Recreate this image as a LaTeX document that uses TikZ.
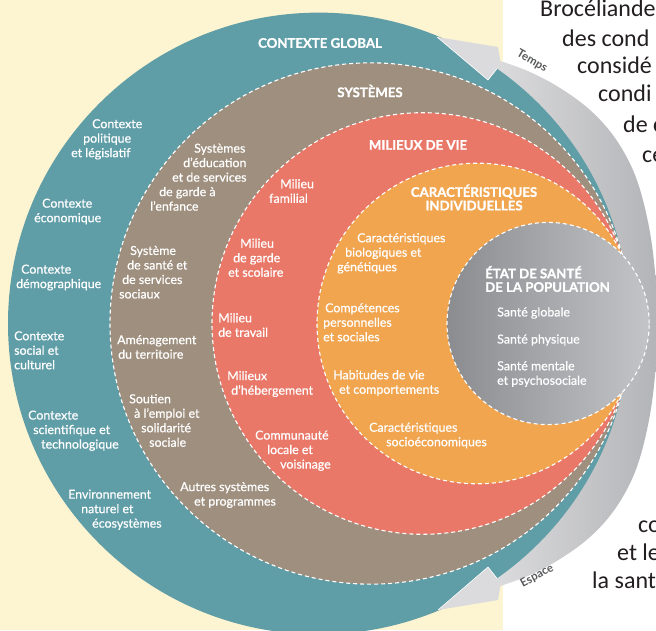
\documentclass[tikz,border=0pt]{standalone}
\usepackage{fontspec}
\setmainfont{Lato}
\newfontfamily\lblfont{Lato}[FakeBold=0.6]
\newfontfamily\hdfont{Lato}[BoldFeatures={FakeBold=1.2}]
\newfontfamily\rtfont{Carlito}
\definecolor{cCream}{HTML}{FDF5D1}
\definecolor{cTeal}{HTML}{5F9DA7}
\definecolor{cBrown}{HTML}{9E8F7E}
\definecolor{cRed}{HTML}{EA7868}
\definecolor{cOrange}{HTML}{F1A54F}
\definecolor{cGrayL}{HTML}{8B8C90}
\definecolor{cGrayR}{HTML}{C3C4C7}
\definecolor{cBandL}{HTML}{DBDBDD}
\definecolor{cBandR}{HTML}{B3B4B7}
\definecolor{cRt}{HTML}{231F20}
\definecolor{cAx}{HTML}{58595B}
\begin{document}
\begin{tikzpicture}[x=1pt,y=1pt,
  lbl/.style={text=white,font=\lblfont\fontsize{12.4}{14.5}\selectfont,align=left,anchor=west,inner sep=0pt},
  hd/.style={text=white,font=\hdfont\bfseries\fontsize{13.2}{13.5}\selectfont,align=center,inner sep=0pt},
  rt/.style={text=cRt,font=\rtfont\fontsize{24}{29}\selectfont,anchor=base west,inner sep=0pt},
  ring/.style={draw=white,dash pattern=on 4pt off 3pt,line width=1.1pt},
  axlbl/.style={text=cAx,font=\bfseries\fontsize{11.5}{12}\selectfont,inner sep=0pt}]
\useasboundingbox (0,0) rectangle (656,630);
\fill[white] (0,0) rectangle (656,630);
\fill[cCream] (0,0) rectangle (503,630);
% time/space band
\path[left color=cBandL,right color=cBandR]
  plot[smooth,tension=0.6] coordinates {(500.4,569) (530,558) (560,542) (590,520) (615,492) (635,455) (648,408) (655,358) (657,306.5) (655,255) (648,205) (635,158) (615,121) (590,93) (560,71) (530,55) (500.4,44)}
  -- (497,51.7) -- (497,561.3) -- cycle;
% contexte global
\fill[cTeal] (318.87,306.5) circle[radius=310.87];
% arrow heads
\fill[cBandL] (437,593) -- (498,583) -- (500.4,569) -- (497,561.3) -- (488,550) -- cycle;
\draw[white,line width=0.6pt] (497,561.3) -- (488,550) -- (437,593);
\fill[cBandL] (438,20) -- (498,30) -- (500.4,44) -- (497,51.7) -- (488,63) -- cycle;
\draw[white,line width=0.6pt] (497,51.7) -- (488,63) -- (438,20);
% systemes
\fill[cBrown] (370.65,306.5) circle[radius=260.65];
\draw[ring] (370.65,306.5) circle[radius=260.65];
% milieux de vie
\fill[cRed] (422.8,306.5) circle[radius=210.8];
\draw[ring] (422.8,306.5) circle[radius=210.8];
% caracteristiques individuelles
\fill[cOrange] (477.3,306.5) circle[radius=160.3];
\draw[ring] (477.3,306.5) circle[radius=160.3];
% etat de sante
\shade[left color=cGrayL,right color=cGrayR] (548.1,306.5) circle[radius=101.1];
\draw[ring] (548.1,306.5) circle[radius=101.1];
% headings
\node[hd] (hglob) at (320,587) {CONTEXTE GLOBAL};
\node[hd] (hsys) at (370,539) {SYSTÈMES};
\node[hd] (hmil) at (418,485) {MILIEUX DE VIE};
\node[hd] (hcar) at (474,432.5) {CARACTÉRISTIQUES\\INDIVIDUELLES};
\node[hd,align=left,anchor=west] (hetat) at (485,351) {ÉTAT DE SANTÉ\\DE LA POPULATION};
% contexte global labels
\node[lbl] (pol) at (71,490.7) {\hspace*{21pt}Contexte\\\hspace*{12pt}politique\\et législatif};
\node[lbl] (eco) at (34,418.5) {\hspace*{8pt}Contexte\\économique};
\node[lbl] (demo) at (16,352.5) {\hspace*{5pt}Contexte\\démographique};
\node[lbl] (soc) at (14,279.7) {Contexte\\social et\\culturel};
\node[lbl] (sci) at (28,199.3) {Contexte\\\hspace*{5pt}scientifique et\\\hspace*{13pt}technologique};
\node[lbl] (env) at (68,120.3) {Environnement\\\hspace*{13pt}naturel et\\\hspace*{24pt}écosystèmes};
% systemes labels
\node[lbl] (educ) at (150,452.8) {\hspace*{44pt}Systèmes\\\hspace*{33pt}d’éducation\\\hspace*{22pt}et de services\\\hspace*{9pt}de garde à\\l’enfance};
\node[lbl] (ssys) at (119,357.75) {\hspace*{11pt}Système\\\hspace*{8pt}de santé et\\\hspace*{3pt}de services\\sociaux};
\node[lbl] (amen) at (117,283) {Aménagement\\\hspace*{1pt}du territoire};
\node[lbl] (empl) at (129,209.5) {Soutien\\\hspace*{5pt}à l’emploi et\\\hspace*{12pt}solidarité\\\hspace*{20pt}sociale};
\node[lbl] (autr) at (180,135) {Autres systèmes\\\hspace*{14pt}et programmes};
% milieux de vie labels
\node[lbl] (fam) at (269,439) {\hspace*{11pt}Milieu\\familial};
\node[lbl] (gard) at (228,372.3) {\hspace*{12pt}Milieu\\\hspace*{5pt}de garde\\et scolaire};
\node[lbl] (trav) at (218,305) {Milieu\\de travail};
\node[lbl] (heb) at (227,246) {Milieux\\\hspace*{4pt}d’hébergement};
\node[lbl] (comm) at (255,179.3) {Communauté\\\hspace*{12pt}locale et\\\hspace*{25pt}voisinage};
% caracteristiques individuelles labels
\node[lbl] (bio) at (337,376.7) {\hspace*{20pt}Caractéristiques\\\hspace*{8pt}biologiques et\\génétiques};
\node[lbl] (comp) at (323,307.7) {\hspace*{2pt}Compétences\\personnelles\\et sociales};
\node[lbl] (hab) at (333,247) {Habitudes de vie\\\hspace*{6pt}et comportements};
\node[lbl] (seco) at (369,194.5) {Caractéristiques\\\hspace*{17pt}socioéconomiques};
% etat de sante labels
\node[lbl] (sglob) at (497,317) {Santé globale};
\node[lbl] (sphys) at (497,290) {Santé physique};
\node[lbl] (sment) at (497,256) {Santé mentale\\et psychosociale};
% axes
\node[axlbl,rotate=-30] (temps) at (532,569) {Temps};
\node[axlbl,rotate=28] (espace) at (537,54) {Espace};
% right-hand text (cropped at the edge)
\node[rt] (r1) at (540,613) {Brocéliande};
\node[rt] (r2) at (562,583) {des cond};
\node[rt] (r3) at (577,556) {considé};
\node[rt] (r4) at (598,528) {condi};
\node[rt] (r5) at (623,497) {de c};
\node[rt] (r6) at (642,467) {ce};
\node[rt] (r7) at (638,98) {co};
\node[rt] (r8) at (617,70) {et le};
\node[rt] (r9) at (592,42) {la sant};
\end{tikzpicture}
\end{document}
